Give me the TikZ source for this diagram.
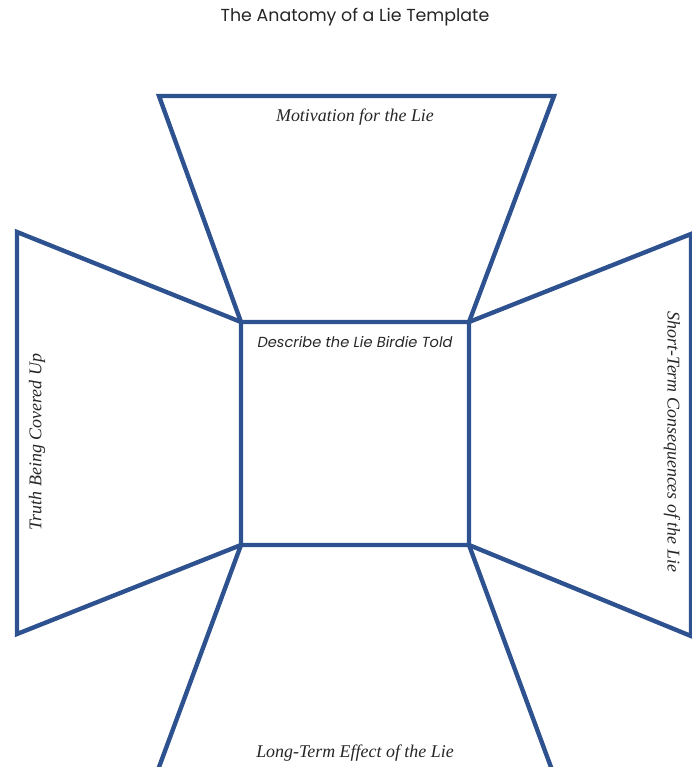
\documentclass[tikz,border=0pt]{standalone}
\usepackage{fontspec}
\setmainfont{Liberation Serif}
\newfontfamily\gothicfont{Poppins}
\usetikzlibrary{calc}
\definecolor{lieblue}{rgb}{0.18,0.32,0.56}

\begin{document}
\begin{tikzpicture}[
  x=0.2mm, y=-0.2mm,
  panel/.style={draw=lieblue, line width=2.5pt, line join=miter},
  lbl/.style={font=\fontsize{10.2}{12}\selectfont\itshape, text=black!85},
  ttl/.style={font=\gothicfont\fontsize{9.9}{12}\selectfont, text=black!85}
]
\useasboundingbox (0,0) rectangle (692,767);
\clip (0,0) rectangle (692,767);

% --- centre box corners ---
\coordinate (ctl) at (241,322);
\coordinate (ctr) at (469,322);
\coordinate (cbr) at (469,545);
\coordinate (cbl) at (241,545);

% --- outer corners ---
\coordinate (ttl) at (159,96);
\coordinate (ttr) at (554,96);
\coordinate (ltop) at (17,232);
\coordinate (lbot) at (17,634);
\coordinate (rtop) at (691,234);
\coordinate (rbot) at (691,636);
\coordinate (bbl) at (155,778);
\coordinate (bbr) at (555,778);

% --- side panels ---
\draw[panel] (ttl) -- (ttr) -- (ctr) -- (ctl) -- cycle;
\draw[panel] (ltop) -- (ctl) -- (cbl) -- (lbot) -- cycle;
\draw[panel] (rtop) -- (ctr) -- (cbr) -- (rbot) -- cycle;
\draw[panel] (cbl) -- (cbr) -- (bbr) -- (bbl) -- cycle;
\draw[panel] (ctl) rectangle (cbr);

% --- labels ---
\node[ttl] (title) at (355,17) {The Anatomy of a Lie Template};
\node[lbl] (motive) at (355,117) {Motivation for the Lie};
\node[lbl, font=\gothicfont\fontsize{8.3}{10}\selectfont\itshape] (lie) at (355,342)
  {Describe the Lie Birdie Told};
\node[lbl, rotate=90] (truth) at (37,442) {Truth Being Covered Up};
\node[lbl, rotate=-90] (short) at (672,442) {Short-Term Consequences of the Lie};
\node[lbl] (long) at (355,753) {Long-Term Effect of the Lie};

\end{tikzpicture}
\end{document}
